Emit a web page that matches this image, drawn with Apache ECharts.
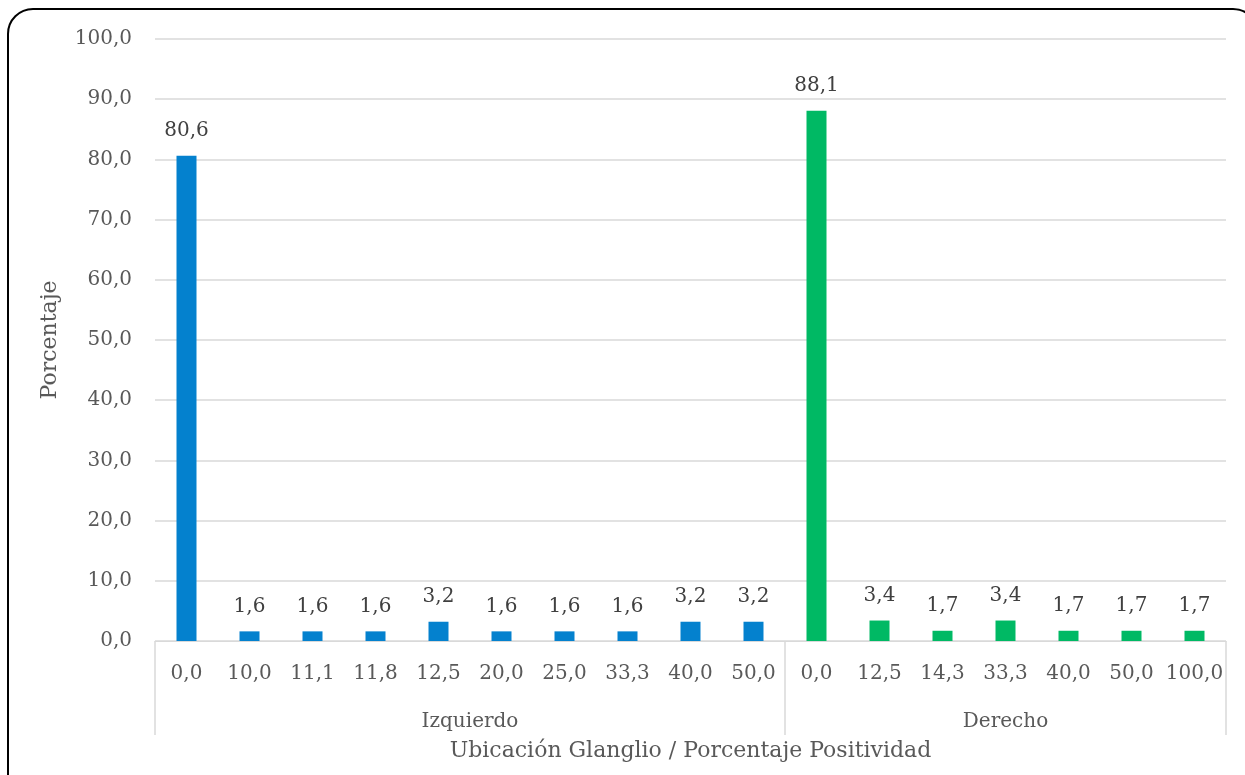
<!DOCTYPE html>
<html>
<head>
<meta charset="utf-8">
<title>Ubicación Glanglio / Porcentaje Positividad</title>
<script src="https://cdn.jsdelivr.net/npm/echarts@6/dist/echarts.min.js"></script>
<style>
  html, body { margin: 0; padding: 0; background: #ffffff; }
  #chart { width: 1245px; height: 775px; }
</style>
</head>
<body>
<div id="chart"></div>
<script>
// Positivity percentages per lymph-node location
const groupNames = ['Izquierdo', 'Derecho'];
const izquierdoCats = ['0,0', '10,0', '11,1', '11,8', '12,5', '20,0', '25,0', '33,3', '40,0', '50,0'];
const izquierdoVals = [80.6, 1.6, 1.6, 1.6, 3.2, 1.6, 1.6, 1.6, 3.2, 3.2];
const derechoCats = ['0,0', '12,5', '14,3', '33,3', '40,0', '50,0', '100,0'];
const derechoVals = [88.1, 3.4, 1.7, 3.4, 1.7, 1.7, 1.7];
const yTicks = [0, 10, 20, 30, 40, 50, 60, 70, 80, 90, 100];

const FONT = '"DejaVu Serif", "Liberation Serif", serif';
const TEXT = '#595959';
const GRID_LINE = '#d9d9d9';

const categories = izquierdoCats.concat(derechoCats);
const nIzq = izquierdoCats.length;
const nAll = categories.length;

// each group gets its own series; the other group's slots stay empty
const izqData = categories.map((_, i) => i < nIzq ? izquierdoVals[i] : null);
const derData = categories.map((_, i) => i >= nIzq ? derechoVals[i - nIzq] : null);

const fmt = v => v.toFixed(1).replace('.', ',');

const labelCfg = {
  show: true,
  position: 'top',
  distance: 15,
  fontFamily: FONT,
  fontSize: 20,
  color: '#404040',
  formatter: p => fmt(p.value)
};

const chart = echarts.init(document.getElementById('chart'), null, { renderer: 'canvas' });

chart.setOption({
  animation: false,
  backgroundColor: '#ffffff',
  graphic: [{
    type: 'rect',
    silent: true,
    shape: { x: 8, y: 9, width: 1250, height: 800, r: 25 },
    style: { fill: 'none', stroke: '#000000', lineWidth: 2 }
  }],
  grid: { left: 155, right: 19, top: 39, bottom: 134 },
  xAxis: [{
    type: 'category',
    data: categories,
    position: 'bottom',
    axisLine: { show: true, lineStyle: { color: GRID_LINE, width: 1 } },
    axisTick: { show: false },
    axisLabel: { fontFamily: FONT, fontSize: 20, color: TEXT, margin: 23, interval: 0 },
    name: 'Ubicación Glanglio / Porcentaje Positividad',
    nameLocation: 'middle',
    nameGap: 99,
    nameTextStyle: { fontFamily: FONT, fontSize: 22, color: TEXT }
  }, {
    // group level: separators at group boundaries, names at group centres
    type: 'value',
    min: 0,
    max: nAll,
    position: 'bottom',
    axisLine: { show: false },
    splitLine: { show: false },
    axisTick: {
      show: true,
      customValues: [0, nIzq, nAll],
      length: 94,
      lineStyle: { color: GRID_LINE, width: 1.5 }
    },
    axisLabel: {
      customValues: [nIzq / 2, nIzq + (nAll - nIzq) / 2],
      formatter: v => (v < nIzq ? groupNames[0] : groupNames[1]),
      fontFamily: FONT, fontSize: 20, color: TEXT, margin: 71
    }
  }],
  yAxis: {
    type: 'value',
    min: yTicks[0],
    max: yTicks[yTicks.length - 1],
    interval: yTicks[1] - yTicks[0],
    axisLine: { show: false },
    axisTick: { show: false },
    splitLine: { lineStyle: { color: GRID_LINE, width: 1.5 } },
    axisLabel: { fontFamily: FONT, fontSize: 20, color: TEXT, margin: 23, formatter: fmt },
    name: 'Porcentaje',
    nameLocation: 'middle',
    nameGap: 94,
    nameRotate: 90,
    nameTextStyle: { fontFamily: FONT, fontSize: 22, color: TEXT }
  },
  series: [{
    name: groupNames[0],
    type: 'bar',
    data: izqData,
    barWidth: 20,
    barGap: '-100%',
    itemStyle: { color: '#0481CE' },
    label: labelCfg
  }, {
    name: groupNames[1],
    type: 'bar',
    data: derData,
    barWidth: 20,
    barGap: '-100%',
    itemStyle: { color: '#00B964' },
    label: labelCfg
  }]
});
</script>
</body>
</html>
